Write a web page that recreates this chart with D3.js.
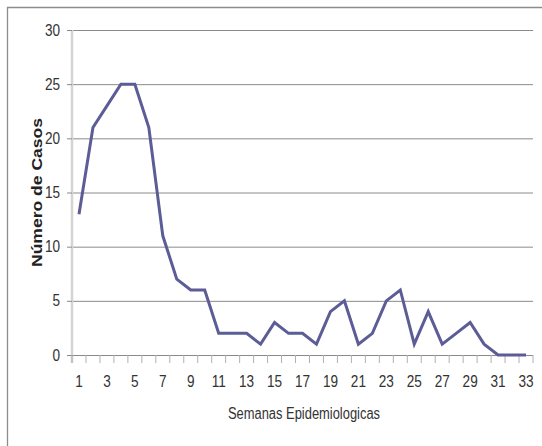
<!DOCTYPE html>
<html>
<head>
<meta charset="utf-8">
<script src="https://cdn.jsdelivr.net/npm/d3@7"></script>
<style>
  html, body { margin: 0; padding: 0; background: #fff; }
  svg { display: block; }
  text { font-family: "Liberation Sans", Arial, sans-serif; }
</style>
</head>
<body>
<svg id="chart" width="542" height="446"></svg>
<script>
const weeks = d3.range(1, 34);
const cases = [13, 21, 23, 25, 25, 21, 11, 7, 6, 6, 2, 2, 2, 1, 3, 2, 2, 1, 4, 5, 1, 2, 5, 6, 1, 4, 1, 2, 3, 1, 0, 0, 0];
const yTicks = [0, 5, 10, 15, 20, 25, 30];
const xTickLabels = weeks.filter(w => w % 2 === 1);
const xTitle = "Semanas Epidemiologicas";
const yTitle = "Número de Casos";

const svg = d3.select("#chart");
const m = { left: 72, right: 533, top: 30, bottom: 355 };

// outer border (cropped frame)
svg.append("path")
  .attr("d", "M7.5,446 L7.5,7.5 L542,7.5")
  .attr("fill", "none").attr("stroke", "#8c8c8c").attr("stroke-width", 1.3);

const x = d3.scaleBand().domain(weeks).range([m.left, m.right]);
const y = d3.scaleLinear().domain([0, 30]).range([m.bottom, m.top]);

// gridlines
svg.append("g").selectAll("line").data(yTicks.filter(t => t > 0)).join("line")
  .attr("x1", m.left).attr("x2", m.right)
  .attr("y1", d => y(d) + 0.5).attr("y2", d => y(d) + 0.5)
  .attr("stroke", "#8a8a8a").attr("stroke-width", 1);

// y axis
const yAxis = svg.append("g").attr("transform", `translate(${m.left},0)`)
  .call(d3.axisLeft(y).tickValues(yTicks).tickSize(5).tickPadding(9));
yAxis.select(".domain").attr("stroke", "#d4d4d4").attr("stroke-width", 2.5)
  .attr("d", `M0,${m.top}V${m.bottom + 8}`);
yAxis.selectAll(".tick line").attr("stroke", "#8a8a8a");
yAxis.selectAll(".tick text").attr("font-size", 16).attr("fill", "#333")
  .attr("transform", "scale(0.85,1)");

// x axis
const xAxis = svg.append("g").attr("transform", `translate(0,${m.bottom})`);
xAxis.append("line").attr("x1", m.left).attr("x2", m.right)
  .attr("y1", 0.5).attr("y2", 0.5).attr("stroke", "#8a8a8a");
const bounds = d3.range(0, weeks.length + 1).map(i => m.left + i * x.step());
xAxis.selectAll("line.tk").data(bounds).join("line").attr("class", "tk")
  .attr("x1", d => d).attr("x2", d => d).attr("y1", 0).attr("y2", 8)
  .attr("stroke", "#b0b0b0");
xAxis.selectAll("text").data(xTickLabels).join("text")
  .attr("transform", d => `translate(${x(d) + x.bandwidth() / 2},32) scale(0.85,1)`)
  .attr("text-anchor", "middle").attr("font-size", 16).attr("fill", "#333")
  .text(d => d);

// line
const line = d3.line().x((d, i) => x(weeks[i]) + x.bandwidth() / 2).y(d => y(d));
svg.append("path").datum(cases).attr("d", line)
  .attr("fill", "none").attr("stroke", "#5c5c96").attr("stroke-width", 3)
  .attr("stroke-linejoin", "miter");

// titles
svg.append("text").attr("x", 228).attr("y", 419)
  .attr("textLength", 152).attr("lengthAdjust", "spacingAndGlyphs")
  .attr("font-size", 16).attr("fill", "#333").text(xTitle);
svg.append("text").attr("transform", "translate(42,267) rotate(-90)")
  .attr("textLength", 149).attr("lengthAdjust", "spacingAndGlyphs")
  .attr("font-size", 14).attr("font-weight", "bold")
  .attr("font-family", "'DejaVu Sans', sans-serif").attr("fill", "#222")
  .text(yTitle);
</script>
</body>
</html>
